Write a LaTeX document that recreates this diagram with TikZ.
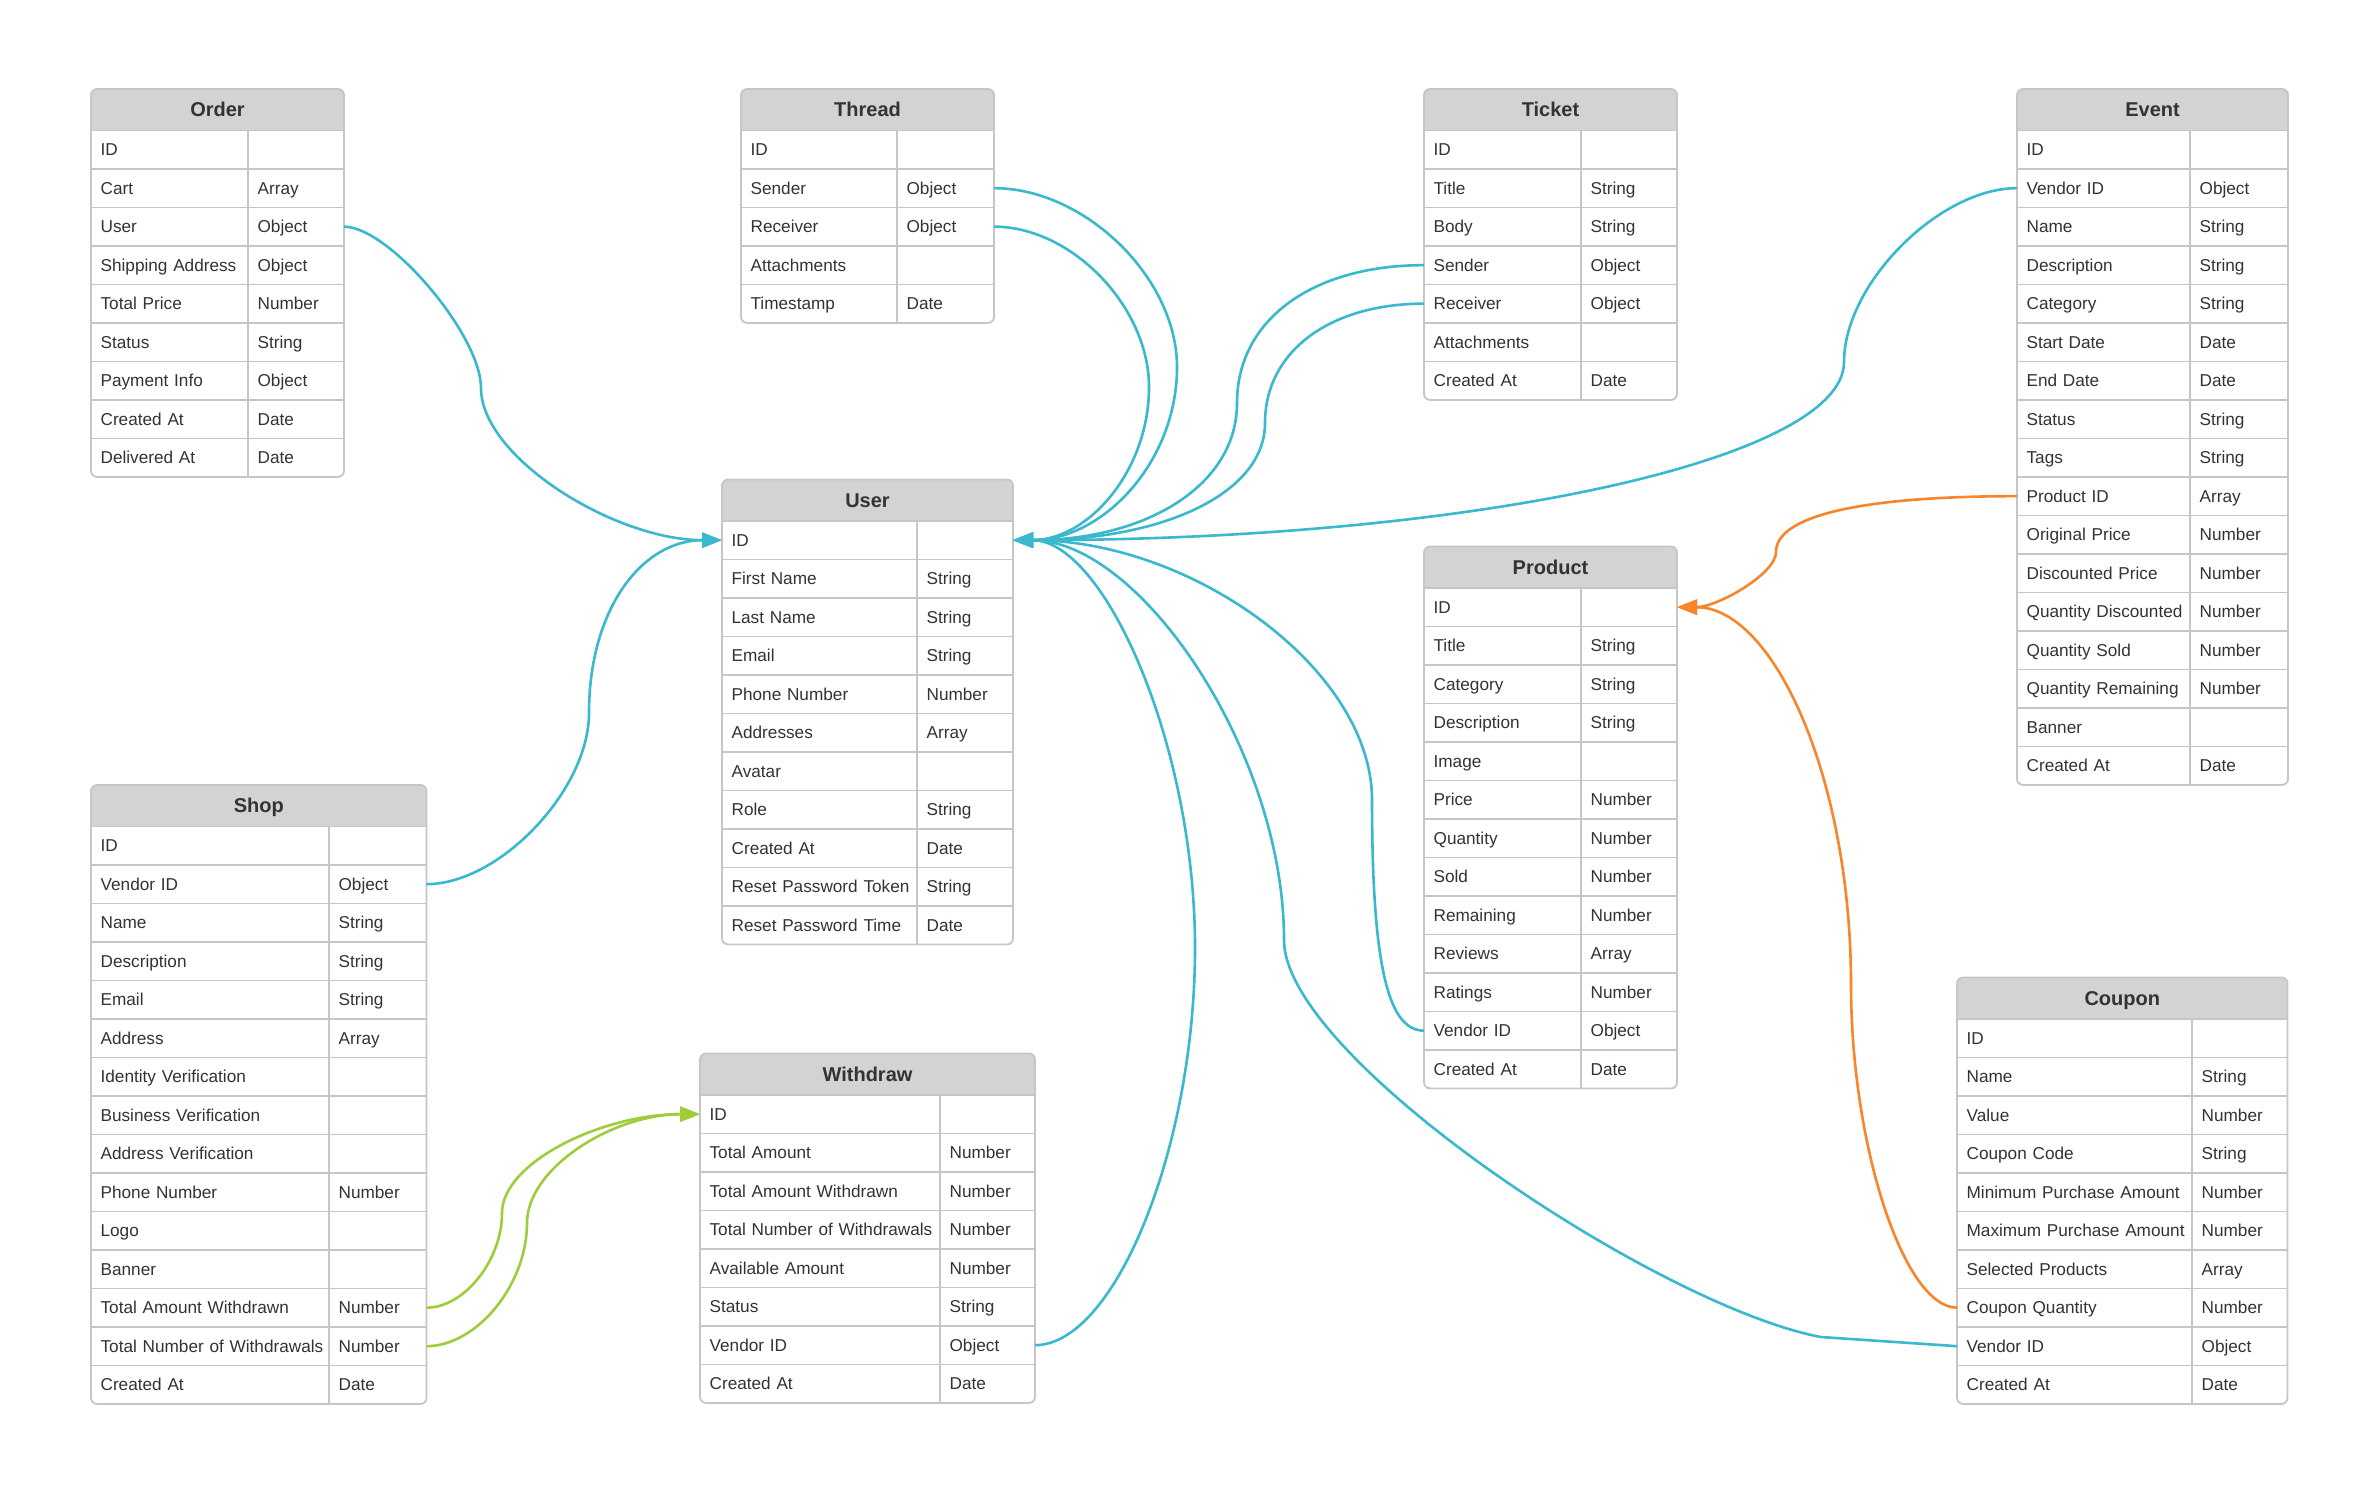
\documentclass[tikz,border=0pt]{standalone}
\usepackage{fontspec}
\setmainfont{Liberation Sans}
\usetikzlibrary{arrows.meta, calc}
\definecolor{erdHead}{HTML}{D3D3D3}
\definecolor{erdLine}{HTML}{C6C6C6}
\definecolor{erdText}{HTML}{333333}
\definecolor{linkCyan}{HTML}{3AB8CD}
\definecolor{linkGreen}{HTML}{9FCC3B}
\definecolor{linkOrange}{HTML}{FA8428}
\tikzset{
  arrowC/.style={-{Triangle[length=10pt, width=7.5pt]}, linkCyan, line width=1.3pt},
  arrowG/.style={-{Triangle[length=10pt, width=7.5pt]}, linkGreen, line width=1.3pt},
  arrowO/.style={-{Triangle[length=10pt, width=7.5pt]}, linkOrange, line width=1.3pt},
  gridLine/.style={draw=erdLine, line width=0.9pt},
  headTxt/.style={font=\bfseries\fontsize{10}{12}\selectfont, text=erdText,
                  inner sep=0pt, text height=7.2pt, text depth=0pt},
  fieldTxt/.style={font=\fontsize{8.6}{10}\selectfont, text=erdText, align=left,
                   inner xsep=4.8pt, inner ysep=0pt, outer sep=0pt,
                   text height=6.2pt, text depth=0pt},
  typeTxt/.style={font=\fontsize{8.6}{10}\selectfont, text=erdText,
                  inner xsep=4.8pt, inner ysep=0pt, outer sep=0pt,
                  text height=6.2pt, text depth=0pt},
}
% one table: name, title, x, y, name column, type column, rows, fields
\newcommand{\erdtable}[8]{%
  \begin{scope}[shift={(#3,#4)}]
    \pgfmathsetmacro{\tabw}{#5+#6}
    \pgfmathsetmacro{\tabh}{41.4+#7*38.5}
    \pgfmathsetmacro{\rowtw}{(#5+#6)*0.5-9.6}
    \fill[erdHead, rounded corners=3pt] (0,0) rectangle (\tabw,41.4);
    \fill[erdHead] (0,20) rectangle (\tabw,41.4);
    \node[headTxt] (#1) at (\tabw/2,20.7) {#2};
    \foreach \fld/\typ [count=\i] in {#8} {
      \node[fieldTxt, text width=\rowtw pt, anchor=west]
        (#1-\i) at (0,{41.4+(\i-0.5)*38.5}) {\fld};
      \node[typeTxt, anchor=west] at (#5,{41.4+(\i-0.5)*38.5}) {\typ};
      \draw[gridLine] (0,{41.4+(\i-1)*38.5}) -- ++(\tabw,0);
      \draw[gridLine] (#5,{41.4+(\i-1)*38.5}) -- ++(0,38.5);
    }
    \draw[gridLine, rounded corners=3pt] (0,0) rectangle (\tabw,\tabh);
  \end{scope}}

\begin{document}
\begin{tikzpicture}[x=0.5pt, y=-0.5pt]
    \fill[white] (0,0) rectangle (2380,1500);
    \useasboundingbox (0,0) rectangle (2380,1500);
    % top row
    \erdtable{order}{Order}{91}{89}{157}{96}{9}{ID/{}, Cart/Array, User/Object,
      Shipping Address/Object, Total Price/Number, Status/String,
      Payment Info/Object, Created At/Date, Delivered At/Date}
    \erdtable{thread}{Thread}{741}{89}{156}{97}{5}{ID/{}, Sender/Object,
      Receiver/Object, Attachments/{}, Timestamp/Date}
    \erdtable{ticket}{Ticket}{1424}{89}{157}{96}{7}{ID/{}, Title/String,
      Body/String, Sender/Object, Receiver/Object, Attachments/{}, Created At/Date}
    \erdtable{event}{Event}{2017}{89}{173}{98}{17}{ID/{}, Vendor ID/Object,
      Name/String, Description/String, Category/String, Start Date/Date,
      End Date/Date, Status/String, Tags/String, Product ID/Array,
      Original Price/Number, Discounted Price/Number, Quantity Discounted/Number,
      Quantity Sold/Number, Quantity Remaining/Number, Banner/{}, Created At/Date}
    % middle
    \erdtable{user}{User}{722}{479.5}{195}{96}{11}{ID/{}, First Name/String,
      Last Name/String, Email/String, Phone Number/Number, Addresses/Array,
      Avatar/{}, Role/String, Created At/Date, Reset Password Token/String,
      Reset Password Time/Date}
    \erdtable{product}{Product}{1424}{546.5}{157}{96}{13}{ID/{}, Title/String,
      Category/String, Description/String, Image/{}, Price/Number,
      Quantity/Number, Sold/Number, Remaining/Number, Reviews/Array,
      Ratings/Number, Vendor ID/Object, Created At/Date}
    % bottom row
    \erdtable{shop}{Shop}{91}{785}{238}{97.5}{15}{ID/{}, Vendor ID/Object,
      Name/String, Description/String, Email/String, Address/Array,
      Identity Verification/{}, Business Verification/{}, Address Verification/{},
      Phone Number/Number, Logo/{}, Banner/{}, Total Amount Withdrawn/Number,
      Total Number of Withdrawals/Number, Created At/Date}
    \erdtable{withdraw}{Withdraw}{700}{1053.5}{240}{95}{8}{ID/{},
      Total Amount/Number, Total Amount Withdrawn/Number,
      Total Number of Withdrawals/Number, Available Amount/Number,
      Status/String, Vendor ID/Object, Created At/Date}
    \erdtable{coupon}{Coupon}{1957}{977.5}{235}{95.5}{10}{ID/{}, Name/String,
      Value/Number, Coupon Code/String, Minimum Purchase Amount/Number,
      Maximum Purchase Amount/Number, Selected Products/Array,
      Coupon Quantity/Number, Vendor ID/Object, Created At/Date}
    % bend points of the links
    \coordinate (m1) at (481,388);
    \coordinate (m2) at (589,713);
    \coordinate (m3) at (1177,367);
    \coordinate (m4) at (1149,387);
    \coordinate (m5) at (1237,403);
    \coordinate (m6) at (1265,423);
    \coordinate (m7) at (1844,362);
    \coordinate (m8) at (1372,800);
    \coordinate (m9) at (1195,948);
    \coordinate (k10) at (1821,1337);
    \coordinate (m10) at (1284,940);
    \coordinate (m11) at (1776,552);
    \coordinate (m12) at (1851,985);
    \coordinate (m13) at (502,1213);
    \coordinate (m14) at (527,1223);
    % links into user
    \draw[arrowC] (order-3.east) .. controls +(45,0) and +(0,-53) .. (m1)
      .. controls +(0,69) and +(-108,0) .. (user-1.west);
    \draw[arrowC] (shop-2.east) .. controls +(73,0) and +(0,77) .. (m2)
      .. controls +(0,-104) and +(-80,0) .. (user-1.west);
    \draw[arrowC] (thread-2.east) .. controls +(91,0) and +(0,-89) .. (m3)
      .. controls +(0,95) and +(90,0) .. (user-1.east);
    \draw[arrowC] (thread-3.east) .. controls +(78,0) and +(0,-80) .. (m4)
      .. controls +(0,84) and +(75,0) .. (user-1.east);
    \draw[arrowC] (ticket-4.west) .. controls +(-112,0) and +(0,-83) .. (m5)
      .. controls +(0,82) and +(134,0) .. (user-1.east);
    \draw[arrowC] (ticket-5.west) .. controls +(-95,0) and +(0,-71) .. (m6)
      .. controls +(0,70) and +(151,0) .. (user-1.east);
    \draw[arrowC] (event-2.west) .. controls +(-78,0) and +(0,-78) .. (m7)
      .. controls +(0,98) and +(457,0) .. (user-1.east);
    \draw[arrowC] (product-12.west) .. controls +(-35,0) and +(0,170) .. (m8)
      .. controls +(0,-130) and +(180,0) .. (user-1.east);
    \draw[arrowC] (withdraw-7.east) .. controls +(80,0) and +(0,199) .. (m9)
      .. controls +(0,-204) and +(91,0) .. (user-1.east);
    \draw[arrowC] (coupon-9.west) -- (k10) .. controls +(-161,-30) and +(0,119) .. (m10)
      .. controls +(0,-188) and +(127,0) .. (user-1.east);
    % links into product
    \draw[arrowO] (event-10.west) .. controls +(-157,0) and +(0,-36) .. (m11)
      .. controls +(0,22) and +(40,0) .. (product-1.east);
    \draw[arrowO] (coupon-8.west) .. controls +(-53,0) and +(0,161) .. (m12)
      .. controls +(0,-208) and +(96,0) .. (product-1.east);
    % links into withdraw
    \draw[arrowG] (shop-13.east) .. controls +(38,0) and +(0,47) .. (m13)
      .. controls +(0,-50) and +(-99,0) .. (withdraw-1.west);
    \draw[arrowG] (shop-14.east) .. controls +(50,0) and +(0,62) .. (m14)
      .. controls +(0,-55) and +(-87,0) .. (withdraw-1.west);
\end{tikzpicture}
\end{document}
